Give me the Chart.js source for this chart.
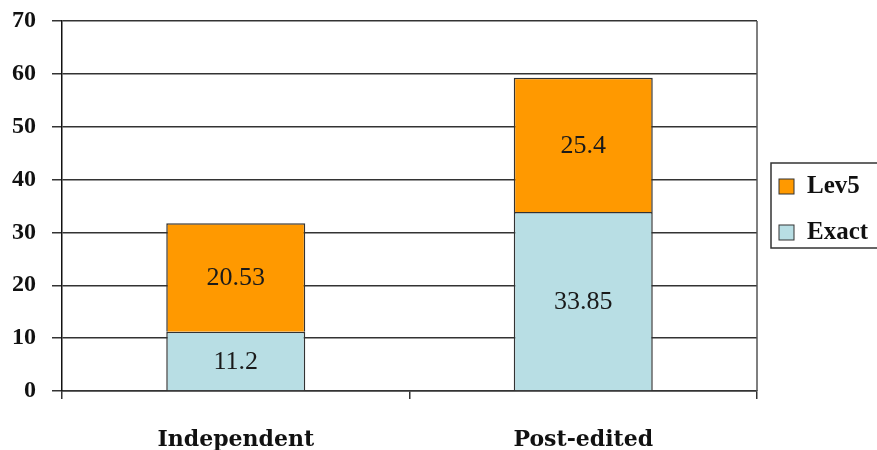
<!DOCTYPE html>
<html>
<head>
<meta charset="utf-8">
<script src="https://cdn.jsdelivr.net/npm/chart.js@4"></script>
<style>
  html, body { margin: 0; padding: 0; background: #fff; }
  #wrap { width: 877px; height: 450px; }
</style>
</head>
<body>
<div id="wrap"><canvas id="chart" width="877" height="450"></canvas></div>
<script>
const categories = ['Independent', 'Post-edited'];
const exactValues = [11.2, 33.85];
const lev5Values = [20.53, 25.4];
const seriesNames = ['Exact', 'Lev5'];

const FONT = '"Liberation Serif", "DejaVu Serif", serif';

// value labels in the middle of each segment
const segmentLabels = {
    id: 'segmentLabels',
    afterDatasetsDraw(chart) {
        const ctx = chart.ctx;
        ctx.save();
        ctx.font = '26px ' + FONT;
        ctx.fillStyle = '#1a1a1a';
        ctx.textAlign = 'center';
        ctx.textBaseline = 'middle';
        chart.data.datasets.forEach((ds, i) => {
            chart.getDatasetMeta(i).data.forEach((bar, j) => {
                ctx.fillText(String(ds.data[j]), bar.x, (bar.y + bar.base) / 2 + 1);
            });
        });
        ctx.restore();
    }
};

// right border of the plot and boxed legend
const frameAndLegend = {
    id: 'frameAndLegend',
    afterDraw(chart) {
        const ctx = chart.ctx;
        const a = chart.chartArea;
        ctx.save();
        ctx.strokeStyle = '#555';
        ctx.lineWidth = 1.5;
        ctx.beginPath();
        ctx.moveTo(a.right, a.top);
        ctx.lineTo(a.right, a.bottom);
        ctx.stroke();

        const bx = a.right + 14, by = 163, bh = 85;
        ctx.strokeStyle = '#333';
        ctx.lineWidth = 1.5;
        ctx.strokeRect(bx, by, 140, bh);

        const items = chart.data.datasets.slice().reverse();
        ctx.font = 'bold 25px ' + FONT;
        ctx.textBaseline = 'middle';
        ctx.textAlign = 'left';
        items.forEach((ds, k) => {
            const cy = by + 23 + k * 46;
            ctx.fillStyle = ds.backgroundColor;
            ctx.fillRect(bx + 8, cy - 7, 15, 15);
            ctx.strokeStyle = '#333';
            ctx.lineWidth = 1;
            ctx.strokeRect(bx + 8, cy - 7, 15, 15);
            ctx.fillStyle = '#111';
            ctx.fillText(ds.label, bx + 36, cy + 1);
        });
        ctx.restore();
    }
};

new Chart(document.getElementById('chart').getContext('2d'), {
    type: 'bar',
    data: {
        labels: categories,
        datasets: [{
            label: seriesNames[0],
            data: exactValues,
            backgroundColor: '#B8DEE4',
            borderColor: '#333',
            borderWidth: 1.5
        }, {
            label: seriesNames[1],
            data: lev5Values,
            backgroundColor: '#FF9900',
            borderColor: '#333',
            borderWidth: 1.5
        }]
    },
    options: {
        responsive: false,
        animation: false,
        layout: { padding: { top: 21, right: 120, left: 0, bottom: 0 } },
        datasets: { bar: { barPercentage: 0.4, categoryPercentage: 1 } },
        plugins: {
            legend: { display: false },
            tooltip: { enabled: false }
        },
        scales: {
            x: {
                stacked: true,
                grid: { offset: true, drawOnChartArea: false, drawTicks: true, tickLength: 8, color: '#333', lineWidth: 1.5 },
                border: { display: true, color: '#333', width: 1.5 },
                ticks: { color: '#111', font: { family: '"DejaVu Serif", serif', size: 22, weight: 'bold' }, padding: 28 },
                afterFit(scale) { scale.height = 59; }
            },
            y: {
                stacked: true,
                min: 0,
                max: 70,
                ticks: { stepSize: 10, color: '#111', font: { family: FONT, size: 24, weight: 'bold' }, padding: 16 },
                grid: { color: '#333', lineWidth: 1.5, tickLength: 10 },
                border: { display: true, color: '#111', width: 1.5 },
                afterFit(scale) {
                    scale.width = 62;
                    scale.paddingTop = 0;
                    scale.paddingBottom = 0;
                }
            }
        }
    },
    plugins: [segmentLabels, frameAndLegend]
});
</script>
</body>
</html>
